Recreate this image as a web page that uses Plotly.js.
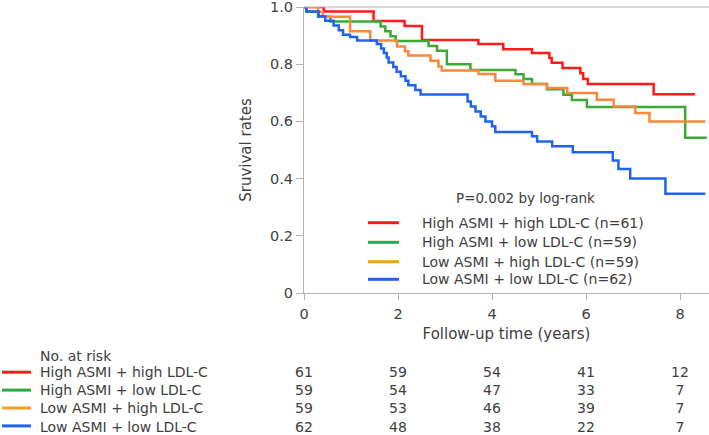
<!DOCTYPE html>
<html><head><meta charset="utf-8">
<script src="https://cdn.plot.ly/plotly-3.0.1.min.js"></script>
<style>html,body{margin:0;padding:0;background:#fff}#chart{width:709px;height:435px}</style>
</head><body><div id="chart"></div>
<script>
// ---- data ----
const groupNames = ["High ASMI + high LDL-C", "High ASMI + low LDL-C", "Low ASMI + high LDL-C", "Low ASMI + low LDL-C"];
const groupN = [61, 59, 59, 62];
const pText = "P=0.002 by log-rank";
const riskTitle = "No. at risk";

const redT = [0, 0.42, 1.48, 2.14, 2.51, 3.71, 4.24, 4.85, 5.22, 5.27, 5.5, 5.88, 5.94, 6.04, 7.44, 8.32];
const redS = [1, 0.984, 0.951, 0.934, 0.885, 0.871, 0.852, 0.839, 0.822, 0.805, 0.787, 0.768, 0.748, 0.731, 0.695, 0.695];

const greenT = [0, 0.05, 0.3, 0.56, 1.63, 1.73, 1.84, 1.95, 2.65, 2.83, 3.04, 3.54, 4.5, 4.67, 4.85, 5.17, 5.52, 5.7, 6.02, 8.11, 8.57];
const greenS = [1, 0.983, 0.966, 0.949, 0.932, 0.915, 0.898, 0.881, 0.864, 0.847, 0.80, 0.78, 0.765, 0.748, 0.731, 0.712, 0.693, 0.675, 0.65, 0.543, 0.543];

const orangeT = [0, 0.3, 0.4, 0.98, 1.41, 1.98, 2.15, 2.22, 2.69, 2.86, 2.93, 3.71, 4.07, 4.67, 5.17, 5.6, 6.23, 6.59, 7.05, 7.35, 8.54];
const orangeS = [1, 0.983, 0.966, 0.915, 0.883, 0.862, 0.845, 0.83, 0.812, 0.792, 0.778, 0.766, 0.742, 0.731, 0.717, 0.699, 0.676, 0.652, 0.629, 0.60, 0.60];

const blueT = [0, 0.05, 0.31, 0.45, 0.63, 0.74, 0.83, 0.98, 1.13, 1.55, 1.64, 1.70, 1.76, 1.80, 1.90, 1.97, 2.06, 2.16, 2.22, 2.37, 2.48, 3.48, 3.55, 3.65, 3.76, 3.86, 4.0, 4.07, 4.85, 4.96, 5.28, 5.72, 6.57, 6.69, 6.94, 7.69, 8.54];
const blueS = [1, 0.984, 0.968, 0.952, 0.935, 0.919, 0.903, 0.895, 0.883, 0.871, 0.855, 0.839, 0.823, 0.806, 0.79, 0.774, 0.758, 0.742, 0.726, 0.71, 0.694, 0.67, 0.652, 0.635, 0.617, 0.60, 0.583, 0.563, 0.548, 0.53, 0.513, 0.492, 0.463, 0.434, 0.40, 0.347, 0.347];

const riskTimes = [0, 2, 4, 6, 8];
const riskRed = [61, 59, 54, 41, 12];
const riskGreen = [59, 54, 47, 33, 7];
const riskOrange = [59, 53, 46, 39, 7];
const riskBlue = [62, 48, 38, 22, 7];

const xTicks = [0, 2, 4, 6, 8];
const yTicks = [0, 0.2, 0.4, 0.6, 0.8, 1.0];
const yTickText = ["0", "0.2", "0.4", "0.6", "0.8", "1.0"];

// ---- styling ----
const curveColors = ["#ff1a1a", "#3aaa35", "#f7893b", "#1f63ee"];
const keyColors = ["#ff1a1a", "#2daa4a", "#f5a020", "#1f63ee"];
const FONT = "DejaVu Sans, Verdana, sans-serif";
const TXT = "#404040";
const AX = "#b4b4b4";

const L = 304, R = 0, T = 7, B = 142, Wd = 709, Ht = 435;
const PW = Wd - L - R, PH = Ht - T - B;
const px = x => (x - L) / PW;
const py = y => (T + PH - y) / PH;

const series = [[redT, redS], [greenT, greenS], [orangeT, orangeS], [blueT, blueS]];
const risks = [riskRed, riskGreen, riskOrange, riskBlue];

const traces = series.map((s, i) => ({
  x: s[0], y: s[1], type: 'scatter', mode: 'lines',
  line: {shape: 'hv', color: curveColors[i], width: 2.5},
  name: groupNames[i] + " (n=" + groupN[i] + ")", showlegend: false, hoverinfo: 'skip'
}));

const annotations = [];
const shapes = [];
// top border
shapes.push({type: 'line', xref: 'paper', yref: 'paper', x0: 0, x1: 1, y0: 1, y1: 1, line: {color: AX, width: 1}});

// p-value
annotations.push({xref: 'paper', yref: 'paper', x: px(455), y: py(198), xanchor: 'left', yanchor: 'middle',
  text: pText, showarrow: false, borderpad: 0, font: {family: FONT, size: 13.5, color: TXT}});
// in-plot key
const keyY = [222.7, 242.3, 261.7, 279.3];
groupNames.forEach((g, i) => {
  shapes.push({type: 'line', xref: 'paper', yref: 'paper', x0: px(368), x1: px(399), y0: py(keyY[i]), y1: py(keyY[i]),
    line: {color: keyColors[i], width: 3}});
  annotations.push({xref: 'paper', yref: 'paper', x: px(421), y: py(keyY[i]), xanchor: 'left', yanchor: 'middle',
    text: g + " (n=" + groupN[i] + ")", showarrow: false, borderpad: 0, font: {family: FONT, size: 14, color: TXT}});
});

// at-risk table
const rowY = [372.2, 390.1, 408.0, 425.9];
const rowMid = (rowY[0] + rowY[3]) / 2;
annotations.push({xref: 'paper', yref: 'paper', x: px(39), y: py(355.5), xanchor: 'left', yanchor: 'middle',
  text: riskTitle, showarrow: false, borderpad: 0, font: {family: FONT, size: 14, color: TXT}});
annotations.push({xref: 'paper', yref: 'paper', x: px(39), y: py(rowMid), xanchor: 'left', yanchor: 'middle', align: 'left',
  text: groupNames.join('<br>'), showarrow: false, borderpad: 0, font: {family: FONT, size: 14, color: TXT}});
groupNames.forEach((g, i) => {
  shapes.push({type: 'line', xref: 'paper', yref: 'paper', x0: px(2), x1: px(31), y0: py(rowY[i]), y1: py(rowY[i]),
    line: {color: keyColors[i], width: 3}});
});
riskTimes.forEach((t, j) => {
  annotations.push({xref: 'x', yref: 'paper', x: t, y: py(rowMid), xanchor: 'center', yanchor: 'middle', align: 'center',
    text: risks.map(r => String(r[j])).join('<br>'), showarrow: false, borderpad: 0,
    font: {family: FONT, size: 14, color: TXT}});
});

const layout = {
  width: Wd, height: Ht,
  margin: {l: L, r: R, t: T, b: B, pad: 0},
  paper_bgcolor: '#fff', plot_bgcolor: '#fff',
  showlegend: false,
  font: {family: FONT, color: TXT, size: 14},
  xaxis: {
    range: [0, PW / 47], tickvals: xTicks, ticktext: xTicks.map(String), ticklabelstandoff: 2,
    showline: true, linecolor: AX, linewidth: 1, ticks: 'outside', ticklen: 6, tickcolor: AX,
    showgrid: false, zeroline: false, tickfont: {family: FONT, size: 14.5, color: TXT},
    title: {text: "Follow-up time (years)", font: {family: FONT, size: 15, color: TXT}, standoff: 7}
  },
  yaxis: {
    range: [0, 1], tickvals: yTicks, ticktext: yTickText, ticklabeloverflow: 'allow',
    showline: true, linecolor: AX, linewidth: 1, ticks: 'outside', ticklen: 7, tickcolor: AX,
    showgrid: false, zeroline: false, tickfont: {family: FONT, size: 14.5, color: TXT},
    title: {text: "Sruvival rates", font: {family: FONT, size: 15, color: TXT}, standoff: 14}
  },
  shapes: shapes, annotations: annotations
};

Plotly.newPlot('chart', traces, layout, {displayModeBar: false, staticPlot: true});
</script>
</body></html>
